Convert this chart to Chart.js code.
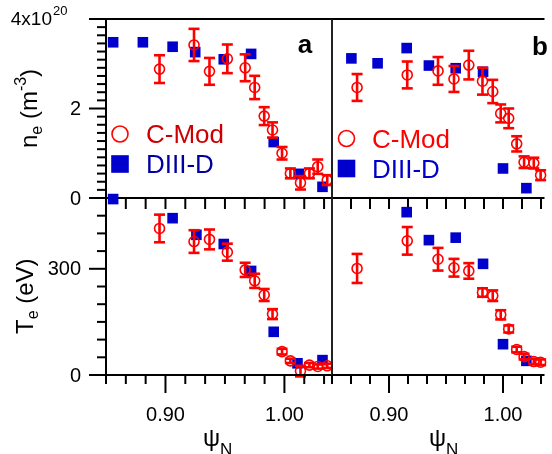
<!DOCTYPE html>
<html>
<head>
<meta charset="utf-8">
<script src="https://cdn.jsdelivr.net/npm/chart.js@4.4.1/dist/chart.umd.min.js"></script>
<style>
  html, body { margin: 0; padding: 0; background: #fff; }
  #wrap { position: relative; width: 552px; height: 454px; overflow: hidden; }
  #wrap canvas { position: absolute; left: 0; top: 0; }
</style>
</head>
<body>
<div id="wrap">
  <canvas id="aTop" width="552" height="454"></canvas>
  <canvas id="bTop" width="552" height="454"></canvas>
  <canvas id="aBot" width="552" height="454"></canvas>
  <canvas id="bBot" width="552" height="454"></canvas>
</div>
<script>
// panel a : C-Mod (Thomson points share the same psi_N)
var aCmodX     = [0.895, 0.924, 0.937, 0.952, 0.967, 0.975, 0.983, 0.990, 0.998, 1.005, 1.0135, 1.021, 1.028, 1.036];
var aCmodNe    = [2.88, 3.42, 2.83, 3.11, 2.91, 2.47, 1.83, 1.52, 1.00, 0.55, 0.34, 0.55, 0.70, 0.40];
var aCmodNeErr = [0.31, 0.36, 0.30, 0.32, 0.30, 0.26, 0.20, 0.17, 0.14, 0.11, 0.15, 0.11, 0.16, 0.11];
var aCmodTe    = [414, 377, 383, 347, 297, 266, 226, 172, 66, 40, 11, 28, 24, 26];
var aCmodTeErr = [39, 32, 28, 24, 20, 20, 17, 14, 8, 6, 15, 6, 6, 6];
// panel a : DIII-D
var aD3dNeX = [0.856, 0.881, 0.906, 0.925, 0.949, 0.972, 0.991, 1.012, 1.032];
var aD3dNe  = [3.48, 3.48, 3.38, 3.26, 3.10, 3.22, 1.25, 0.54, 0.25];
var aD3dTeX = [0.856, 0.906, 0.926, 0.949, 0.972, 0.991, 1.011, 1.032];
var aD3dTe  = [497, 443, 396, 370, 294, 122, 33, 42];

// panel b : C-Mod
var bCmodX     = [0.872, 0.916, 0.943, 0.957, 0.970, 0.982, 0.991, 0.998, 1.005, 1.012, 1.0185, 1.027, 1.033];
var bCmodNe    = [2.47, 2.75, 2.84, 2.66, 2.97, 2.61, 2.38, 1.89, 1.78, 1.21, 0.80, 0.78, 0.51];
var bCmodNeErr = [0.30, 0.30, 0.31, 0.29, 0.32, 0.30, 0.26, 0.20, 0.22, 0.17, 0.13, 0.12, 0.11];
var bCmodTe    = [301, 379, 327, 303, 294, 233, 224, 170, 130, 72, 52, 38, 36];
var bCmodTeErr = [41, 39, 32, 25, 22, 12, 15, 13, 10, 8, 8, 8, 8];
// panel b : DIII-D
var bD3dNeX = [0.867, 0.890, 0.9155, 0.935, 0.9585, 0.9825, 1.000, 1.0205];
var bD3dNe  = [3.12, 3.01, 3.35, 2.96, 2.90, 2.82, 0.66, 0.22];
var bD3dTeX = [0.9155, 0.935, 0.9585, 0.9825, 1.000, 1.0205];
var bD3dTe  = [460, 381, 388, 314, 87, 40];

// axes
var xMin = 0.85, xMaxA = 1.04, xMaxB = 1.0364;
var xMinorStep = 1 / 60;
var xMajor = [0.90, 1.00];
var xTickLabels = ['0.90', '1.00'];
var neMax = 4, neMinorStep = 2 / 11;
var neMajor = [0, 2, 4];
var neTickLabels = ['0', '2', '4x10'];
var teMax = 500, teMinorStep = 50;
var teMajor = [0, 300];
var teTickLabels = ['0', '300'];

var RED = '#ff0000', BLUE = '#0000cc';
var FONT = "'Liberation Sans', Arial, Helvetica, sans-serif";

var panels = {
  aTop: { row: 'top', left: true,  tag: 'a', tagX: 305, tagY: 53,
          leg: { cx: 120, cy: 134, sy: 164, tx: 146, c1: '#cc0000', c2: '#0000a0' } },
  bTop: { row: 'top', left: false, tag: 'b', tagX: 540, tagY: 55,
          leg: { cx: 346.5, cy: 138.5, sy: 168.5, tx: 372, c1: RED, c2: BLUE } },
  aBot: { row: 'bot', left: true },
  bBot: { row: 'bot', left: false }
};

function line(ctx, x1, y1, x2, y2) {
  ctx.beginPath(); ctx.moveTo(x1, y1); ctx.lineTo(x2, y2); ctx.stroke();
}

// text with sub/superscripts, written along +x of the current transform
function rich(ctx, parts, x, y) {
  parts.forEach(function (p) {
    ctx.font = p.size + 'px ' + FONT;
    ctx.fillText(p.t, x, y + (p.dy || 0));
    x += ctx.measureText(p.t).width;
  });
}

var frame = {
  id: 'frame',
  afterDatasetsDraw: function (chart) {
    var ctx = chart.ctx, ys = chart.scales.y;
    var ds = chart.data.datasets[0], meta = chart.getDatasetMeta(0);
    ctx.save();
    ctx.strokeStyle = RED; ctx.lineWidth = 2.6;
    meta.data.forEach(function (pt, i) {
      var v = ds.data[i].y, e = ds.err[i];
      var y1 = ys.getPixelForValue(v + e), y2 = ys.getPixelForValue(v - e);
      line(ctx, pt.x, y1, pt.x, y2);
      line(ctx, pt.x - 5.5, y1, pt.x + 5.5, y1);
      line(ctx, pt.x - 5.5, y2, pt.x + 5.5, y2);
    });
    ctx.restore();
  },
  afterDraw: function (chart) {
    var o = panels[chart.canvas.id];
    var ctx = chart.ctx, a = chart.chartArea, xs = chart.scales.x, ys = chart.scales.y;
    var top = o.row === 'top';
    ctx.save();
    ctx.strokeStyle = '#000'; ctx.fillStyle = '#000'; ctx.lineWidth = 2;

    // x ticks on the lower edge of the panel
    for (var i = 0; xMin + i * xMinorStep <= xs.max + 1e-9; i++) {
      var v = xMin + i * xMinorStep;
      var px = xs.getPixelForValue(v);
      var major = xMajor.some(function (m) { return Math.abs(m - v) < 1e-6; });
      line(ctx, px, a.bottom, px, a.bottom + (top ? 11 : (major ? 18 : 9)));
    }
    line(ctx, a.left, a.bottom, a.right, a.bottom);
    if (top) line(ctx, a.left, a.top, a.right, a.top);

    if (!top) {
      ctx.font = '20px ' + FONT;
      ctx.textAlign = 'center'; ctx.textBaseline = 'middle';
      xMajor.forEach(function (m, k) {
        ctx.fillText(xTickLabels[k], xs.getPixelForValue(m), a.bottom + 40);
      });
      ctx.textAlign = 'left'; ctx.textBaseline = 'alphabetic';
      ctx.font = '24px ' + FONT;
      var psiX = a.left + 97;
      ctx.fillText('\u03C8', psiX, 446);
      var w = ctx.measureText('\u03C8').width;
      ctx.font = '17px ' + FONT;
      ctx.fillText('N', psiX + w, 455);
    }

    if (o.left) {
      line(ctx, a.left, a.top, a.left, a.bottom);
      ctx.strokeStyle = '#222';
      line(ctx, a.right, a.top, a.right, a.bottom + (top ? 0 : 9));
      ctx.strokeStyle = '#000';
      var step = top ? neMinorStep : teMinorStep;
      var majors = top ? neMajor : teMajor;
      var labels = top ? neTickLabels : teTickLabels;
      for (var j = 0; j * step <= ys.max + 1e-9; j++) {
        var yv = j * step;
        var py = ys.getPixelForValue(yv);
        var isMaj = majors.some(function (m) { return Math.abs(m - yv) < 1e-6; });
        line(ctx, a.left - (isMaj ? 17 : 9), py, a.left, py);
      }
      ctx.textAlign = 'right'; ctx.textBaseline = 'middle';
      majors.forEach(function (m, k) {
        var py = ys.getPixelForValue(m);
        if (labels[k] === '4x10') {
          ctx.font = '19px ' + FONT;
          ctx.fillText(labels[k], a.left - 54, py + 1);
          ctx.textAlign = 'left';
          ctx.font = '13px ' + FONT;
          ctx.fillText('20', a.left - 53, py - 8);
          ctx.textAlign = 'right';
        } else {
          ctx.font = '20px ' + FONT;
          ctx.fillText(labels[k], a.left - 25, py + 1);
        }
      });

      // axis titles (rotated)
      ctx.save();
      ctx.textAlign = 'left'; ctx.textBaseline = 'alphabetic';
      if (top) {
        ctx.translate(37, 148); ctx.rotate(-Math.PI / 2);
        rich(ctx, [{ t: 'n', size: 24 }, { t: 'e', size: 16, dy: 5 }, { t: ' (m', size: 24 },
                   { t: '-3', size: 16, dy: -11 }, { t: ')', size: 24 }], 0, 0);
      } else {
        ctx.translate(33, 334); ctx.rotate(-Math.PI / 2);
        rich(ctx, [{ t: 'T', size: 24 }, { t: 'e', size: 16, dy: 5 }, { t: ' (eV)', size: 24 }], 0, 0);
      }
      ctx.restore();
    }

    if (top) {
      // panel tag
      ctx.font = 'bold 26px ' + FONT;
      ctx.textAlign = 'center'; ctx.textBaseline = 'alphabetic';
      ctx.fillText(o.tag, o.tagX, o.tagY);
      // legend
      var L = o.leg;
      ctx.strokeStyle = RED; ctx.lineWidth = 1.6;
      ctx.beginPath(); ctx.arc(L.cx, L.cy, 8, 0, Math.PI * 2); ctx.stroke();
      ctx.fillStyle = BLUE;
      ctx.fillRect(L.cx - 8.8, L.sy - 8.8, 17.6, 17.6);
      ctx.font = '26px ' + FONT;
      ctx.textAlign = 'left';
      ctx.fillStyle = L.c1; ctx.fillText('C-Mod', L.tx, L.cy + 9);
      ctx.fillStyle = L.c2; ctx.fillText('DIII-D', L.tx, L.sy + 9);
    }
    ctx.restore();
  }
};

function pts(xs, ys) {
  return xs.map(function (x, i) { return { x: x, y: ys[i] }; });
}

function makePanel(id, cmod, err, d3d, xMax, yMax, pad) {
  return new Chart(document.getElementById(id), {
    type: 'scatter',
    data: {
      datasets: [
        { label: 'C-Mod', data: cmod, err: err, pointStyle: 'circle', pointRadius: 5,
          pointBorderWidth: 1.6, borderColor: RED, backgroundColor: 'rgba(0,0,0,0)', clip: false },
        { label: 'DIII-D', data: d3d, pointStyle: 'rect', pointRadius: 7.5,
          pointBorderWidth: 0, borderColor: BLUE, backgroundColor: BLUE, clip: false }
      ]
    },
    options: {
      responsive: false, animation: false, events: [],
      layout: { padding: pad },
      scales: {
        x: { type: 'linear', display: false, min: xMin, max: xMax },
        y: { type: 'linear', display: false, min: 0, max: yMax }
      },
      plugins: { legend: { display: false }, tooltip: { enabled: false } }
    },
    plugins: [frame]
  });
}

makePanel('aTop', pts(aCmodX, aCmodNe), aCmodNeErr, pts(aD3dNeX, aD3dNe), xMaxA, neMax,
  { left: 106, right: 220, top: 19, bottom: 256 });
makePanel('bTop', pts(bCmodX, bCmodNe), bCmodNeErr, pts(bD3dNeX, bD3dNe), xMaxB, neMax,
  { left: 332, right: 0, top: 19, bottom: 256 });
makePanel('aBot', pts(aCmodX, aCmodTe), aCmodTeErr, pts(aD3dTeX, aD3dTe), xMaxA, teMax,
  { left: 106, right: 220, top: 198, bottom: 79 });
makePanel('bBot', pts(bCmodX, bCmodTe), bCmodTeErr, pts(bD3dTeX, bD3dTe), xMaxB, teMax,
  { left: 332, right: 0, top: 198, bottom: 79 });
</script>
</body>
</html>
